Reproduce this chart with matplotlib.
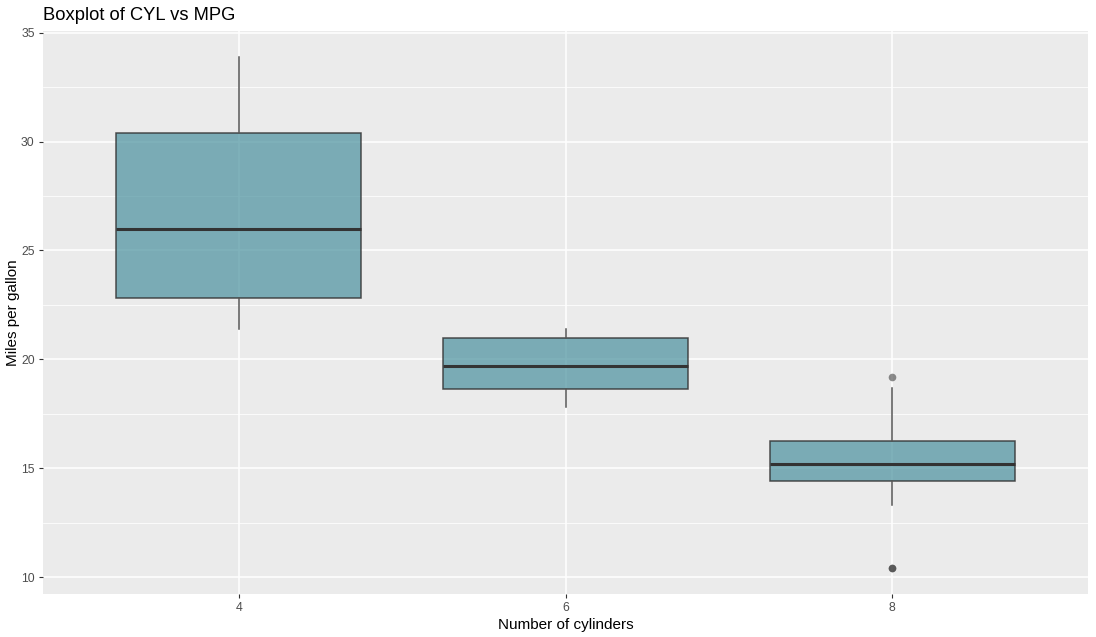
import matplotlib
matplotlib.use('Agg')
import matplotlib.pyplot as plt
from matplotlib.ticker import MultipleLocator

plt.rcParams['font.family'] = ['Liberation Sans', 'DejaVu Sans']

# box statistics
cyl_labels = ['4', '6', '8']
whisker_low = [21.4, 17.8, 13.3]
q1 = [22.8, 18.65, 14.4]
medians = [26.0, 19.7, 15.2]
q3 = [30.4, 21.0, 16.25]
whisker_high = [33.9, 21.4, 18.7]
outliers = [[], [], [10.4, 10.4, 19.2]]

stats = []
for i in range(len(cyl_labels)):
    stats.append({
        'label': cyl_labels[i],
        'whislo': whisker_low[i],
        'q1': q1[i],
        'med': medians[i],
        'q3': q3[i],
        'whishi': whisker_high[i],
        'fliers': outliers[i],
    })

fig = plt.figure(figsize=(10.96, 6.37), dpi=100)
ax = fig.add_axes([43 / 1096, (637 - 594) / 637, 1045 / 1096, (594 - 31) / 637])
ax.set_facecolor('#EBEBEB')

positions = [1, 2, 3]
ax.bxp(stats, positions=positions, widths=0.75, patch_artist=True, showcaps=False,
       boxprops=dict(facecolor=(0.29, 0.57, 0.62, 0.7), edgecolor=(0.2, 0.2, 0.2, 0.85), linewidth=1.1),
       medianprops=dict(color='#333333', linewidth=2.2),
       whiskerprops=dict(color='#555555', linewidth=1.1),
       flierprops=dict(marker='o', markerfacecolor=(0.2, 0.2, 0.2, 0.55), markeredgecolor='none', markersize=5.5),
       zorder=3)

ax.set_xlim(0.4, 3.6)
ax.set_ylim(9.225, 35.075)
ax.yaxis.set_major_locator(MultipleLocator(5))
ax.yaxis.set_minor_locator(MultipleLocator(2.5))
ax.set_xticks(positions)
ax.set_xticklabels(cyl_labels)

ax.grid(which='major', color='white', linewidth=1.1, zorder=0)
ax.grid(which='minor', axis='y', color='white', linewidth=0.55, zorder=0)
ax.set_axisbelow(True)
for s in ax.spines.values():
    s.set_visible(False)

ax.tick_params(which='major', length=3, color='#333333', labelsize=8.8, labelcolor='#4D4D4D', pad=3)
ax.tick_params(which='minor', length=0)

ax.set_xlabel('Number of cylinders', fontsize=11, color='black', labelpad=3)
ax.set_ylabel('Miles per gallon', fontsize=11, color='black', labelpad=1)
ax.set_title('Boxplot of CYL vs MPG', loc='left', fontsize=13.2, pad=8)

fig.savefig('out.png', dpi=100)
